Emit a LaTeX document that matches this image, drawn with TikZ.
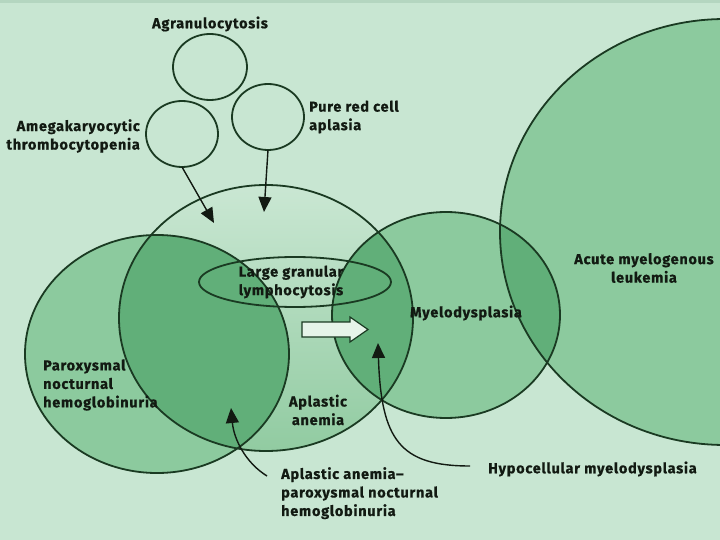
\documentclass[tikz,border=0pt]{standalone}
\usepackage{fontspec}
\setmainfont{Fira Sans}[LetterSpace=5, BoldFeatures={FakeBold=0.6}]
\usetikzlibrary{shapes.geometric,arrows.meta}
\definecolor{bg}{RGB}{200,230,210}
\definecolor{band}{RGB}{180,214,192}
\definecolor{lone}{RGB}{140,202,158}
\definecolor{ltwo}{RGB}{97,175,121}
\definecolor{aptop}{RGB}{202,231,211}
\definecolor{apbot}{RGB}{145,203,161}
\definecolor{edge}{RGB}{26,58,34}
\definecolor{txt}{RGB}{18,26,18}
\definecolor{hollow}{RGB}{230,244,233}
\begin{document}
\begin{tikzpicture}[x=1pt,y=-1pt,
  lbl/.style={font=\bfseries\fontsize{14.5}{18.5}\selectfont, text=txt, inner sep=0pt},
  setline/.style={ellipse, draw=edge, line width=1.8pt, inner sep=0pt, outer sep=0pt},
  ptr/.style={draw=txt, line width=1.4pt, -{Triangle[length=15pt,width=13pt]}},
]
\useasboundingbox (0,0) rectangle (720,540);
\fill[bg] (0,0) rectangle (720,540);
\fill[band] (0,0) rectangle (720,3.5);

% ---- fills ----
\shade[top color=aptop, bottom color=apbot] (266,318) ellipse [x radius=147, y radius=133];
\fill[lone] (157,354) ellipse [x radius=132, y radius=119];
\fill[lone] (446,315) ellipse [x radius=114, y radius=103];
\fill[lone] (725,232) ellipse [x radius=225, y radius=213];
\begin{scope}
  \clip (266,318) ellipse [x radius=147, y radius=133];
  \fill[ltwo] (157,354) ellipse [x radius=132, y radius=119];
  \fill[ltwo] (446,315) ellipse [x radius=114, y radius=103];
\end{scope}
\begin{scope}
  \clip (446,315) ellipse [x radius=114, y radius=103];
  \fill[ltwo] (725,232) ellipse [x radius=225, y radius=213];
\end{scope}

% ---- outlines ----
\node[setline, minimum width=294pt, minimum height=266pt] (ap) at (266,318) {};
\node[setline, minimum width=264pt, minimum height=238pt] (pnh) at (157,354) {};
\node[setline, minimum width=228pt, minimum height=206pt] (mds) at (446,315) {};
\node[setline, minimum width=450pt, minimum height=426pt] (aml) at (725,232) {};
\node[setline, minimum width=192pt, minimum height=50pt] (lgl) at (295,282) {};

\node[setline, minimum width=74pt, minimum height=66pt] (agc) at (210,67) {};
\node[setline, minimum width=72pt, minimum height=66pt] (amc) at (182,134) {};
\node[setline, minimum width=72pt, minimum height=66pt] (prc) at (268,117) {};

% ---- hollow arrow ----
\draw[edge, line width=1.2pt, fill=hollow]
  (302,322) -- (350,322) -- (350,317) -- (368,329.5) -- (350,342) -- (350,337) -- (302,337) -- cycle;

% ---- labels ----
\node[lbl] (tagc) at (210,24) {Agranulocytosis};
\node[lbl, anchor=east, align=right] (tamc) at (140,136) {Amegakaryocytic\\thrombocytopenia};
\node[lbl, anchor=west, align=left] (tprc) at (309,117) {Pure red cell\\aplasia};
\node[lbl, align=center] (tlgl) at (291,282) {Large granular\\lymphocytosis};
\node[lbl, anchor=west, align=left] (tpnh) at (43,385) {Paroxysmal\\nocturnal\\hemoglobinuria};
\node[lbl, align=center] (tap) at (318,410) {Aplastic\\anemia};
\node[lbl] (tmds) at (466,313) {Myelodysplasia};
\node[lbl, align=center] (taml) at (644,268) {Acute myelogenous\\leukemia};
\node[lbl, anchor=west] (thyp) at (488,469) {Hypocellular myelodysplasia};
\node[lbl, anchor=north west, align=left] (tappnh) at (281,467) {Aplastic anemia–\\paroxysmal nocturnal\\hemoglobinuria};

% ---- pointers ----
\coordinate (tipam) at (214,223);
\coordinate (tippr) at (264,212);
\coordinate (tipappnh) at (231,408);
\coordinate (tiphyp) at (378,343);
\coordinate (startappnh) at (267,476);
\coordinate (starthyp) at (470,466);
\draw[ptr] (amc.south) -- (tipam);
\draw[ptr] (prc.south) -- (tippr);
\draw[ptr] (startappnh) .. controls (246,463) and (234,440) .. (tipappnh);
\draw[ptr] (starthyp) .. controls (400,466) and (381,440) .. (tiphyp);
\end{tikzpicture}
\end{document}
